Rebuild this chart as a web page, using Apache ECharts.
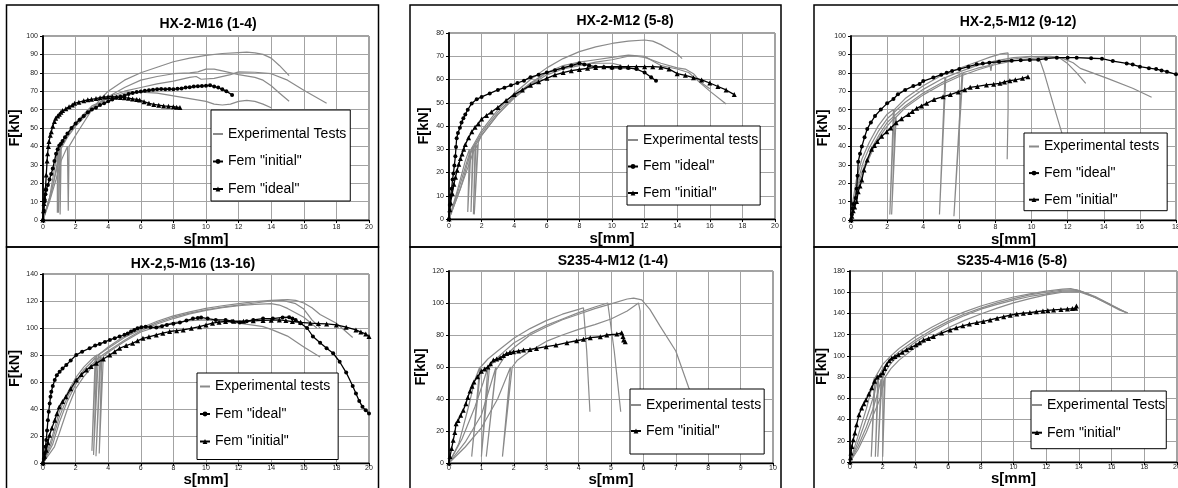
<!DOCTYPE html>
<html><head><meta charset="utf-8">
<script src="https://cdn.jsdelivr.net/npm/echarts@6/dist/echarts.min.js"></script>
<style>html,body{margin:0;padding:0;background:#fff}#c{width:1178px;height:488px}</style>
</head><body><div id="c"></div>
<script>
// ---------------- DATA (s[mm], F[kN]) ----------------
// Panel 1: HX-2-M16 (1-4)
const p1ExpA = [[0,0],[0.4,10],[0.8,22],[1.1,32],[1.5,40],[1.55,5],[1.6,40],[2,46],[2.5,53],[3,60],[3.5,65.5],[4,70],[5,76],[6,80],[7,83],[8,86],[9,88],[10,89.5],[11,90.5],[12,91],[12.5,91.2],[13,90.8],[13.5,90],[14,88],[14.5,84],[15.1,78.5]];
const p1ExpB = [[0,0],[0.5,15],[0.9,30],[1.0,38],[0.95,4],[1.05,38],[1.5,45],[2,51],[3,60],[4,67],[5,72],[6,76],[7,78],[8,79.5],[9,80],[9.5,80.5],[10,82],[10.5,82],[11,81],[12,79],[13,77.5],[13.5,76],[14,73],[14.5,69],[15.1,64.5]];
const p1ExpC = [[0,0],[0.5,14],[0.9,32],[1.05,40],[1.05,3],[1.12,40],[1.5,46],[2,52],[3,61],[4,67],[5,70],[6,72],[7,74],[8,75.5],[9,77.5],[9.4,78],[9.7,76.5],[10.5,77],[11.5,79],[12,80.5],[13,80.3],[14,79.5],[15,76],[16,70.5],[17.4,63.5]];
const p1ExpD = [[0,0],[0.4,12],[0.8,33],[0.88,38],[0.88,4],[0.95,38],[1.5,47],[2,53],[3,62],[4,66],[5,69],[6,69.5],[7,69],[8,67.5],[9,66],[10,64.5],[10.5,63],[11,62.5],[11.5,63],[12,64.5],[12.5,65],[13,64.5],[13.5,63],[14,61]];
const p1FemInitial = [[0,0],[0.05,5],[0.1,10],[0.15,14],[0.2,16.5],[0.3,19],[0.4,22],[0.5,25],[0.6,28],[0.7,32],[0.8,36],[0.9,38.5],[1.0,40.5],[1.1,41.5],[1.2,43],[1.35,45],[1.5,47],[1.75,50],[2.0,52.5],[2.25,54.5],[2.5,56.5],[2.75,58.5],[3.0,60],[3.25,61],[3.5,62.5],[3.75,63.5],[4.0,64.5],[4.25,65.5],[4.5,66.5],[4.75,67],[5.0,67.5],[5.25,68.5],[5.5,69],[5.75,69.5],[6.0,69.8],[6.25,70.2],[6.5,70.5],[6.75,70.8],[7.0,71],[7.25,71.2],[7.5,71],[7.75,71.2],[8.0,71],[8.25,71.3],[8.5,71.5],[8.75,72],[9.0,72.2],[9.25,72.5],[9.5,72.7],[9.75,72.8],[10.0,73],[10.25,73.2],[10.5,72.5],[10.75,72],[11.0,71],[11.25,70],[11.6,68]];
const p1FemIdeal = [[0,0],[0.03,5],[0.06,9],[0.1,12],[0.15,17],[0.2,24.5],[0.25,32],[0.28,36],[0.33,40],[0.37,42.6],[0.45,46],[0.51,48],[0.6,51],[0.7,53.5],[0.78,55.3],[0.9,56.5],[1.0,57.5],[1.1,58.5],[1.2,59.5],[1.4,60.5],[1.6,61.5],[1.8,62.5],[1.94,63.4],[2.2,64],[2.5,64.8],[2.75,65.3],[2.97,65.6],[3.25,66],[3.5,66.5],[3.75,66.8],[3.99,67],[4.25,67],[4.5,66.8],[4.75,66.6],[5.0,66.5],[5.25,66.2],[5.5,65.8],[5.75,65.5],[5.93,65.2],[6.2,64.3],[6.5,63.4],[6.8,62.8],[7.1,62.4],[7.4,62],[7.7,61.8],[8.0,61.6],[8.2,61.3],[8.4,61.2]];

// Panel 2: HX-2-M12 (5-8)
const p2ExpA = [[0,0],[0.5,12],[1.0,25],[1.25,30],[1.15,3],[1.35,30],[2,38],[3,47],[4,54],[5,60],[6,65],[7,69],[8,72],[9,74],[10,75.5],[11,76.5],[12,77],[12.5,76.5],[13,75],[13.5,73],[14,71],[14.3,69]];
const p2ExpB = [[0,0],[0.6,13],[1.2,27],[1.45,31],[1.35,3],[1.5,31],[2,37],[3,46],[4,53],[5,58.5],[6,63],[7,66],[8,67.5],[9,68.5],[10,69.5],[11,70.5],[12,70],[12.5,68],[13,66],[14,64.5],[14.7,63],[15.5,58],[16,55],[17,49.5]];
const p2ExpC = [[0,0],[0.7,13],[1.3,28],[1.6,32],[1.5,2],[1.65,32],[2,36],[3,45],[4,52],[5,57.5],[6,62],[7,64.5],[8,66],[9,67.5],[10,68.5],[11,70],[11.5,70],[12,69.5],[13,67],[14,65],[14.5,64.5],[15,62.5],[15.5,58.5],[16,56]];
const p2ExpD = [[0,0],[0.8,15],[1.5,29],[1.75,32],[1.55,2],[1.8,33],[2,36],[3,45],[4,52.5],[5,58],[6,63],[7,65],[8,66.5],[9,67],[10,67],[10.6,66]];
const p2FemIdeal = [[0,0],[0.05,6],[0.1,10],[0.16,13],[0.22,17],[0.27,19.6],[0.33,23],[0.39,27],[0.43,31],[0.47,34.7],[0.55,37],[0.67,39.3],[0.77,41.5],[0.88,43.3],[1.0,45],[1.15,47],[1.39,49.7],[1.7,51.5],[2.0,52.5],[2.5,54],[3.0,55.5],[3.4,56.5],[3.8,57.5],[4.2,58.5],[4.6,59.5],[5.0,61],[5.5,62],[6.0,63],[6.5,64],[7.0,65],[7.5,66],[8.0,67],[8.3,66.5],[8.6,66],[9.0,65.5],[9.5,65.3],[10.0,65],[10.5,65],[11.0,65],[11.5,64.5],[12.0,63],[12.4,61],[12.7,59.5]];
const p2FemInitial = [[0,0],[0.05,4],[0.1,7],[0.2,11],[0.3,15],[0.4,18],[0.5,21],[0.6,23.5],[0.7,26],[0.8,28],[0.9,30],[1.0,32],[1.2,35],[1.4,37.5],[1.6,39.5],[1.8,41],[2.0,43],[2.3,44.5],[2.6,46],[3.0,48],[3.5,51],[4.0,53.5],[4.5,55.5],[5.0,57.5],[5.5,59],[6.0,60.5],[6.5,62],[7.0,63],[7.5,63.8],[8.0,64.3],[8.5,64.8],[9.0,65.2],[9.5,65.5],[10.0,65.5],[10.5,65.5],[11.0,65.5],[11.5,65.5],[12.0,65.5],[12.5,65.5],[13.0,65.3],[13.5,64.5],[14.0,62.5],[14.5,61.8],[15.0,60.8],[15.5,59.8],[16.0,58.5],[16.5,57],[17.0,55.5],[17.5,53.5]];

// Panel 3: HX-2,5-M12 (9-12)
const p3ExpA = [[0,0],[0.1,10],[0.3,22],[0.6,33],[1.0,42],[1.5,51],[2.0,57.5],[2.35,60],[2.15,3],[2.4,60],[3,66],[4,73],[5,78.5],[6,82.5],[7,86],[7.7,88.5],[8.3,90.3],[8.7,90.8],[8.7,60],[8.65,33]];
const p3ExpB = [[0,0],[0.15,10],[0.4,22],[0.7,32],[1.0,39],[1.5,48],[2.0,55],[3,64],[4,71],[5,76.5],[5.2,77.5],[4.9,3],[5.25,77.5],[6,80.5],[7,84],[8,86.5],[9,88.2],[10,89],[10.4,88.5],[10.7,80],[11.2,63],[11.9,40]];
const p3ExpC = [[0,0],[0.15,9],[0.4,20],[0.8,31],[1.2,40],[1.6,47],[2,53],[3,62],[4,69],[5,74.5],[6,79],[6.15,80],[5.7,2],[6.2,80],[7,82.5],[7.7,84],[7.75,81],[7.8,84.5],[8,85.5],[9,87.5],[10,88.8],[11,89],[11.5,88.5],[12,85],[12.5,80],[13,74.3]];
const p3ExpD = [[0,0],[0.15,8],[0.4,18],[0.8,29],[1.2,38],[1.6,45.5],[2,51],[2.45,56],[2.25,3],[2.5,56],[3,61],[4,68],[5,73.5],[6,78],[7,81.5],[8,84.5],[9,86.5],[10,87.8],[11,88.5],[11.7,88],[12.3,85.5],[12.7,82.4],[14.2,77],[15.6,71.6],[16.65,66.7]];
const p3FemIdeal = [[0,0],[0.05,3],[0.09,6.3],[0.13,8.7],[0.26,12],[0.31,17],[0.36,24],[0.4,31.7],[0.5,36],[0.6,39.9],[0.75,45],[0.9,49.5],[1.1,53],[1.33,56.5],[1.65,60],[2.0,63.4],[2.35,65.8],[2.6,68.3],[3.0,70.7],[3.45,72.8],[3.8,73.9],[4.0,75.5],[4.56,77.4],[5.0,79],[5.3,80],[5.6,81],[6.0,82],[6.5,83.3],[6.96,84.6],[7.3,85],[7.66,85.5],[8.2,86],[8.9,86.6],[9.4,86.8],[9.9,87],[10.37,87.1],[10.8,87.7],[11.4,88.2],[12.0,88.2],[12.5,88.2],[13.3,87.9],[13.9,87.7],[14.5,86.4],[15.27,85.1],[15.6,84.5],[16.0,83.3],[16.5,82.5],[16.9,82],[17.2,81.3],[17.5,80.6],[18.0,79.2]];
const p3FemInitial = [[0,0],[0.05,2],[0.12,5],[0.2,7],[0.31,10],[0.4,15.4],[0.5,18.5],[0.6,21.7],[0.72,27.2],[0.9,32.6],[1.14,38.4],[1.3,40.5],[1.46,42.6],[1.7,45.5],[1.98,48],[2.2,50],[2.5,52.9],[2.8,55],[3.18,57.4],[3.4,59],[3.64,60.7],[3.9,62],[4.19,63.4],[4.6,65.5],[5.1,67],[5.5,68.2],[5.94,69.6],[6.3,70.8],[6.6,72.1],[7.0,72.6],[7.5,73.4],[7.9,73.8],[8.25,74.3],[8.5,75],[8.8,75.7],[9.1,76.2],[9.5,77],[9.8,77.9]];

// Panel 4: HX-2,5-M16 (13-16)
const p4ExpA = [[0,0],[0.5,17],[1,38],[1.5,52],[2,63],[2.5,71],[3,77],[3.3,80],[3.1,6],[3.4,80],[4,86],[5,94],[6,100],[7,105],[8,109],[9,112],[10,114.5],[11,116.5],[12,118],[13,119.5],[14,120.5],[15,121],[15.5,120.5],[16,118.5],[16.5,115],[17,110],[18,103.5],[19,93]];
const p4ExpB = [[0,0],[0.5,14],[1,34],[1.5,49],[2,60],[2.5,69],[3,75],[3.2,78],[3.0,9],[3.25,79],[4,85],[5,93],[6,99],[7,104],[8,108],[9,111],[10,113.5],[11,115.5],[12,117],[13,118.5],[14,120],[14.7,120.5],[15.5,118],[16,114],[16.5,106],[17,100]];
const p4ExpC = [[0,0],[0.6,14],[1,30],[1.5,46],[2,58],[2.5,67],[3,73],[3.5,79],[3.25,5],[3.55,79],[4,83],[5,91],[6,98],[7,103],[8,107],[9,110.5],[10,113],[11,115],[12,116.5],[13,117.5],[14,118],[14.5,117],[15,114.5],[16,108],[16.8,100]];
const p4ExpD = [[0,0],[0.7,12],[1,22],[1.5,40],[2,55],[2.5,64],[3,71],[3.6,78],[3.45,7],[3.7,79],[4,82],[5,90],[6,97],[7,101],[8,104],[9,105.5],[10,106],[11,105],[12,103.5],[13,102],[13.5,101],[14,99],[15,94],[16,86],[17,78.5]];
const p4FemIdeal = [[0,0],[0.05,3],[0.1,7],[0.15,12],[0.2,17],[0.25,24],[0.3,31.7],[0.35,38],[0.41,44],[0.46,49],[0.51,52.8],[0.6,57],[0.72,61.4],[0.85,65],[1.02,67.6],[1.2,70],[1.43,72.6],[1.7,76],[2.04,80],[2.4,82.5],[2.86,85],[3.2,87],[3.48,88.2],[3.8,89.7],[4.1,91.2],[4.4,92.5],[4.7,93.7],[5.0,95],[5.2,96],[5.4,97.5],[5.6,98.6],[5.8,99.8],[6.03,100.6],[6.3,101],[6.6,100.6],[6.95,100.3],[7.3,101.3],[7.6,102.3],[8.0,103.2],[8.4,104],[8.8,105.5],[9.2,107],[9.5,107.5],[9.7,107.8],[10.1,107],[10.6,106],[11.2,106],[11.6,105],[12.07,104],[12.5,105],[12.9,106],[13.5,107],[14.1,107],[14.7,107.8],[15.1,108],[15.3,107],[15.5,106],[15.8,103.5],[16.2,100],[16.56,93.7],[17.0,89],[17.4,85],[17.8,81.3],[18.2,75],[18.6,67],[19.0,57],[19.2,51.5],[19.4,46],[19.6,41.6],[19.8,39],[20,36.7]];
const p4FemInitial = [[0,0],[0.1,5],[0.2,9.4],[0.3,15],[0.4,20.6],[0.55,26],[0.72,31.7],[0.85,36.5],[1.0,41.6],[1.2,45.5],[1.4,49],[1.7,55],[2.04,61.4],[2.35,65.5],[2.66,68.9],[2.95,71.5],[3.27,73.8],[3.7,77],[4.1,80],[4.4,82.5],[4.7,85],[5.1,87],[5.5,88.7],[5.8,90.5],[6.13,92.4],[6.5,93.5],[6.95,94.9],[7.35,96.2],[7.77,97.4],[8.2,98],[8.6,98.6],[9.1,99.8],[9.6,101],[10.0,102.3],[10.4,103.6],[10.8,104.3],[11.2,104.8],[11.7,105],[12.3,105],[12.9,105.3],[13.5,105.6],[14.0,105.8],[14.5,106],[14.9,105.5],[15.3,104.8],[15.8,104.2],[16.4,103.6],[16.9,103.3],[17.4,103],[18.0,102.3],[18.6,100.6],[19.2,98.6],[19.5,97],[19.8,95.6],[20,93.7]];

// Panel 5: S235-4-M12 (1-4)
const p5ExpA = [[0,0],[0.3,12],[0.6,35],[0.8,52],[0.95,60],[0.7,4],[0.98,60],[1.2,65],[1.5,70],[2,78],[2.5,84],[3,89],[3.5,93],[4,96],[4.15,97],[4.25,70],[4.35,32]];
const p5ExpB = [[0,0],[0.4,15],[0.8,35],[1.05,50],[1.2,60],[1.0,4],[1.25,60],[1.5,66],[2,75],[2.5,81],[3,86],[3.5,90],[4,94],[4.5,97.5],[4.9,100],[5.1,70],[5.3,32]];
const p5ExpC = [[0,0],[0.5,13],[1.0,30],[1.3,50],[1.45,60],[1.15,4],[1.45,58],[1.7,66],[2,72],[2.5,80],[3,85],[3.5,89.5],[4,93],[4.5,96.5],[5,99.5],[5.5,102.5],[5.7,103],[5.95,102],[6.2,96],[6.5,86],[7,70],[7.4,47],[7.7,35]];
const p5ExpD = [[0,0],[0.5,10],[1.0,22],[1.5,40],[1.9,60],[1.65,4],[1.95,60],[2.1,64],[2.5,70],[3,76],[3.5,80],[4,83.5],[4.5,86.5],[5,90],[5.5,95],[5.85,100],[5.9,95],[5.9,35]];
const p5FemInitial = [[0,0],[0.03,4],[0.08,9],[0.13,14.2],[0.18,19],[0.22,24.6],[0.28,26.5],[0.36,29.8],[0.44,33],[0.52,37],[0.58,41],[0.65,45],[0.71,48],[0.77,50.7],[0.88,53.9],[1.0,57.4],[1.1,58.8],[1.2,60],[1.28,62],[1.37,64.3],[1.47,65],[1.58,65.8],[1.68,67.2],[1.78,68.5],[1.88,69],[1.99,69.5],[2.15,70],[2.3,70.6],[2.5,71],[2.7,71.6],[3.0,72.7],[3.3,73.7],[3.64,75.2],[3.94,76.4],[4.15,77.3],[4.36,78.3],[4.67,78.9],[4.87,80],[5.18,80.6],[5.33,81.4],[5.37,79],[5.39,76.8],[5.44,75.8]];

// Panel 6: S235-4-M16 (5-8)
const p6ExpA = [[0,0],[0.3,15],[0.6,30],[1,50],[1.3,68],[1.5,80],[1.3,5],[1.55,80],[2,92],[2.5,100],[3,107],[4,118],[5,127],[6,135],[7,141.5],[8,147],[9,151.5],[10,155.5],[11,158.5],[12,161],[13,163],[13.5,163.5],[14,161.5],[15,155],[16,147.5],[16.9,140.8]];
const p6ExpB = [[0,0],[0.4,15],[0.8,32],[1.2,50],[1.5,65],[1.7,80],[1.55,5],[1.75,80],[2,88],[2.5,97],[3,104],[4,115],[5,124.5],[6,132.5],[7,139.5],[8,145],[9,150],[10,154],[11,157.5],[12,160],[13,162],[13.8,162.5],[14.5,159],[15.5,151],[16.5,143],[17,140.5]];
const p6ExpC = [[0,0],[0.5,15],[1,33],[1.4,50],[1.7,65],[1.9,78],[1.7,5],[1.95,78],[2.2,86],[2.5,93],[3,101],[4,113],[5,122.5],[6,131],[7,138],[8,144],[9,148.5],[10,152.5],[11,156],[12,158.5],[13,161],[14,161.5],[15,156],[16,148]];
const p6ExpD = [[0,0],[0.5,12],[1,28],[1.5,47],[1.9,62],[2.1,80],[2.0,5],[2.15,80],[2.5,88],[3,96],[4,108],[5,118],[6,126.5],[7,133.5],[8,139.5],[9,145],[10,150],[11,154],[12,157.5],[13,160],[14,160.5],[15,155],[16,148],[16.8,141.5]];
const p6FemInitial = [[0,0],[0.03,4],[0.06,8.5],[0.12,14.7],[0.2,21],[0.3,27.3],[0.4,35],[0.55,44.5],[0.71,50.8],[0.85,55],[0.98,58.6],[1.15,64],[1.33,70],[1.5,76],[1.67,80],[1.85,82],[2.0,84],[2.12,88],[2.24,92],[2.4,95.5],[2.55,97.8],[2.75,99.5],[2.96,101],[3.2,103.5],[3.47,105.7],[3.75,108],[4.04,110.4],[4.25,112.5],[4.5,115],[4.8,116.5],[5.1,118.2],[5.6,121.5],[6.12,124.5],[6.5,126.5],[6.9,128.3],[7.3,130],[7.76,131.4],[8.15,132.5],[8.57,133.9],[9.0,135.5],[9.4,137],[9.8,138.3],[10.2,139.5],[10.6,140.2],[11.0,140.8],[11.4,141.6],[11.8,142.4],[12.1,142.8],[12.45,143.3],[12.9,143.8],[13.3,144.2],[13.6,144.6],[13.8,144.9],[13.85,147]];

// Titles, axis ranges, legend labels
const titles = ['HX-2-M16 (1-4)','HX-2-M12 (5-8)','HX-2,5-M12 (9-12)','HX-2,5-M16 (13-16)','S235-4-M12 (1-4)','S235-4-M16 (5-8)'];
const xMaxes = [20,20,18,20,10,20];
const xSteps = [2,2,2,2,1,2];
const yMaxes = [100,80,100,140,120,180];
const ySteps = [10,10,10,20,20,20];
const expLabels = ['Experimental Tests','Experimental tests','Experimental tests','Experimental tests','Experimental tests','Experimental Tests'];

// ---------------- LAYOUT / STYLE ----------------
const FONT = "'Liberation Sans', Arial, sans-serif";
const grids = [
  {left:43, top:36, width:326, height:184},
  {left:449, top:33, width:326, height:186},
  {left:851, top:36, width:325, height:184},
  {left:43, top:274, width:326, height:189},
  {left:449, top:271, width:324, height:192},
  {left:850, top:271, width:327, height:191}
];
const titlePos = [[208,24.3],[625,21],[1018,22.3],[193,264.3],[613,261],[1012,261.3]];
const xLabelMargin = [4,4,4,1.5,1.5,1.5];
const xNameGap = [9,9,9,6,6,6];

const panels = [
  {exp:[p1ExpA,p1ExpB,p1ExpC,p1ExpD], fem:[['Fem "initial"',p1FemInitial,'circle'],['Fem "ideal"',p1FemIdeal,'triangle']],
   legend:{left:211, top:110, padding:[17,4,5,1], itemGap:13.5}},
  {exp:[p2ExpA,p2ExpB,p2ExpC,p2ExpD], fem:[['Fem "ideal"',p2FemIdeal,'circle'],['Fem "initial"',p2FemInitial,'triangle']],
   legend:{left:627, top:126, padding:[7,2,5,0], itemGap:12.5}},
  {exp:[p3ExpA,p3ExpB,p3ExpC,p3ExpD], fem:[['Fem "ideal"',p3FemIdeal,'circle'],['Fem "initial"',p3FemInitial,'triangle']],
   legend:{left:1024, top:133, padding:[6.5,8,4,4], itemGap:12.6}},
  {exp:[p4ExpA,p4ExpB,p4ExpC,p4ExpD], fem:[['Fem "ideal"',p4FemIdeal,'circle'],['Fem "initial"',p4FemInitial,'triangle']],
   legend:{left:197, top:373, padding:[6.5,8,11,2], itemGap:13.5}},
  {exp:[p5ExpA,p5ExpB,p5ExpC,p5ExpD], fem:[['Fem "initial"',p5FemInitial,'triangle']],
   legend:{left:630, top:389, padding:[9,3,16,0], itemGap:12}},
  {exp:[p6ExpA,p6ExpB,p6ExpC,p6ExpD], fem:[['Fem "initial"',p6FemInitial,'triangle']],
   legend:{left:1031, top:391, padding:[7,1,9,0], itemGap:13.7}}
];

const option = {
  animation:false,
  backgroundColor:'#fff',
  title:[], grid:[], xAxis:[], yAxis:[], series:[], legend:[],
  graphic:[]
};

panels.forEach((p,i)=>{
  option.grid.push(Object.assign({show:true, borderColor:'#444', borderWidth:1, backgroundColor:'transparent', containLabel:false, outerBoundsMode:'none'}, grids[i]));
  option.title.push({text:titles[i], left:titlePos[i][0], top:titlePos[i][1]-7, textAlign:'center', padding:0,
    textStyle:{fontSize:14, fontWeight:'bold', color:'#000', fontFamily:FONT}});
  option.xAxis.push({type:'value', gridIndex:i, min:0, max:xMaxes[i], interval:xSteps[i],
    name:'s[mm]', nameLocation:'middle', nameGap:xNameGap[i],
    nameTextStyle:{fontSize:15, fontWeight:'bold', color:'#000', fontFamily:FONT},
    axisLine:{show:true, onZero:false, lineStyle:{color:'#000', width:1.3}},
    axisTick:{show:true, length:3, lineStyle:{color:'#000'}},
    axisLabel:{fontSize:7, color:'#222', margin:xLabelMargin[i], fontFamily:FONT, showMaxLabel:true, showMinLabel:true, hideOverlap:false},
    splitLine:{show:true, lineStyle:{color:'#a3a3a3', width:1}}});
  option.yAxis.push({type:'value', gridIndex:i, min:0, max:yMaxes[i], interval:ySteps[i],
    name:'F[kN]', nameLocation:'middle', nameGap:18, nameRotate:90,
    nameTextStyle:{fontSize:14.5, fontWeight:'bold', color:'#000', fontFamily:FONT},
    axisLine:{show:true, onZero:false, lineStyle:{color:'#000', width:1.8}},
    axisTick:{show:true, length:3, lineStyle:{color:'#000'}},
    axisLabel:{fontSize:7, color:'#222', margin:5, fontFamily:FONT, showMaxLabel:true, hideOverlap:false},
    splitLine:{show:true, lineStyle:{color:'#a3a3a3', width:1}}});
  const expName = expLabels[i] + '#' + i;
  p.exp.forEach(d=>{
    option.series.push({type:'line', name:expName, xAxisIndex:i, yAxisIndex:i, data:d, symbol:'none',
      lineStyle:{color:'#8a8a8a', width:1.2}, itemStyle:{color:'#8a8a8a'}, z:2, silent:true});
  });
  const legendItems = [{name:expName, itemStyle:{opacity:0}}];
  p.fem.forEach(f=>{
    const nm = f[0] + '#' + i;
    legendItems.push({name:nm});
    option.series.push({type:'line', name:nm, xAxisIndex:i, yAxisIndex:i, data:f[1], symbol:f[2],
      symbolSize: f[2]==='circle'?4:5, showSymbol:true, showAllSymbol:true,
      lineStyle:{color:'#000', width:1.3}, itemStyle:{color:'#000', borderWidth:0}, z:3, silent:true});
  });
  option.legend.push(Object.assign({orient:'vertical', data:legendItems, formatter:n=>n.split('#')[0],
    itemWidth:10, itemHeight:6, borderColor:'#000', borderWidth:1, backgroundColor:'#fff', borderRadius:0,
    selectedMode:false, z:10,
    textStyle:{fontSize:14, color:'#000', fontFamily:FONT}}, p.legend));
});

// Panel frames
const frames = [[6.5,5,372,242],[410,5,371,242],[814,5,370,242],[6.5,247,372,250],[410,247,371,250],[814,247,370,250]];
frames.forEach(f=>{
  option.graphic.push({type:'rect', silent:true, z:1, shape:{x:f[0], y:f[1], width:f[2], height:f[3]},
    style:{fill:'none', stroke:'#000', lineWidth:1.5}});
});

const chart = echarts.init(document.getElementById('c'), null, {renderer:'canvas'});
chart.setOption(option);
</script></body></html>
